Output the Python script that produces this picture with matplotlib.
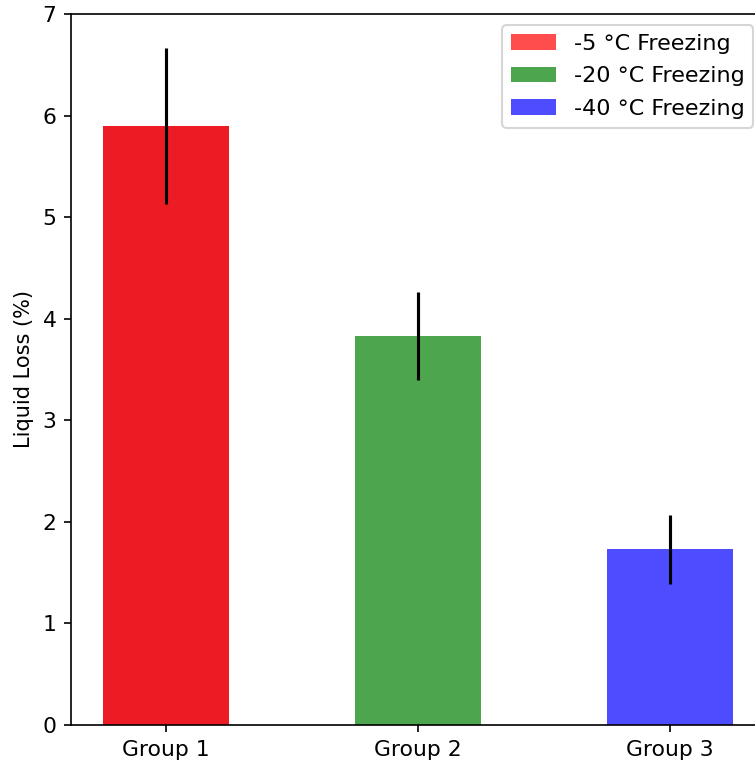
import matplotlib
matplotlib.use("Agg")
import matplotlib.pyplot as plt
from matplotlib.patches import Patch

groups = ["Group 1", "Group 2", "Group 3"]
means = [5.90, 3.83, 1.73]
errors = [0.77, 0.43, 0.34]
labels = ["-5 °C Freezing", "-20 °C Freezing", "-40 °C Freezing"]
bar_colors = ["#ED1C24", "#4DA64D", "#4D4DFF"]
legend_colors = ["#FF4D4D", "#4DA64D", "#4D4DFF"]

fig = plt.figure(figsize=(755 / 150, 763 / 150), dpi=150)
ax = fig.add_axes([71 / 755, 38 / 763, 693.5 / 755, 711 / 763])

x = list(range(len(groups)))
ax.bar(x, means, width=0.5, color=bar_colors)
ax.errorbar(x, means, yerr=errors, fmt="none", ecolor="black", elinewidth=1.5, capsize=0)

ax.set_xticks(x)
ax.set_xticklabels(groups, fontsize=10.5)
ax.set_ylim(0, 7)
ax.set_yticks(range(0, 8))
ax.tick_params(axis="y", labelsize=10.5)
ax.set_ylabel("Liquid Loss (%)", fontsize=10)

handles = [Patch(facecolor=c, label=l) for c, l in zip(legend_colors, labels)]
ax.legend(handles=handles, loc="upper right", fontsize=10.7, borderaxespad=0.5,
          labelspacing=0.55)

fig.savefig("out.png", dpi=150)
